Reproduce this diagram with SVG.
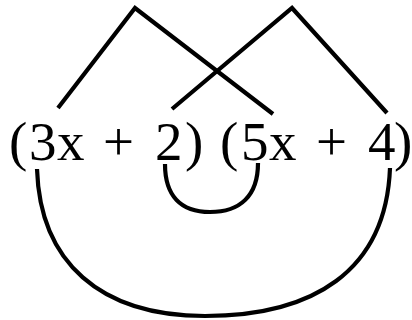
<svg xmlns="http://www.w3.org/2000/svg" width="412" height="320" viewBox="0 0 412 320">
<style>
.c{fill:none;stroke:#000;stroke-width:4.2;stroke-linejoin:miter;stroke-linecap:butt}
.t{font-family:"Liberation Serif","DejaVu Serif",serif;font-size:55px;fill:#000}
</style>
<rect width="412" height="320" fill="#fff"/>
<g id="expression">
<text class="t" y="160" x="9 29 57 88 103 137 155 185 200 220 241 269 300 316 350 368 394">(3x + 2) (5x + 4)</text>
</g>
<g id="connectors">
<polyline class="c" points="58,108 135,8 273,114"/>
<polyline class="c" points="172,109 292,8 387,113"/>
<path class="c" d="M165,164 C165,196 181,212 210,212 C240,212 258,196 258,163"/>
<path class="c" d="M37,169 C40,262 100,316 205,316 C312,316 386,272 390,168"/>
</g>
</svg>
